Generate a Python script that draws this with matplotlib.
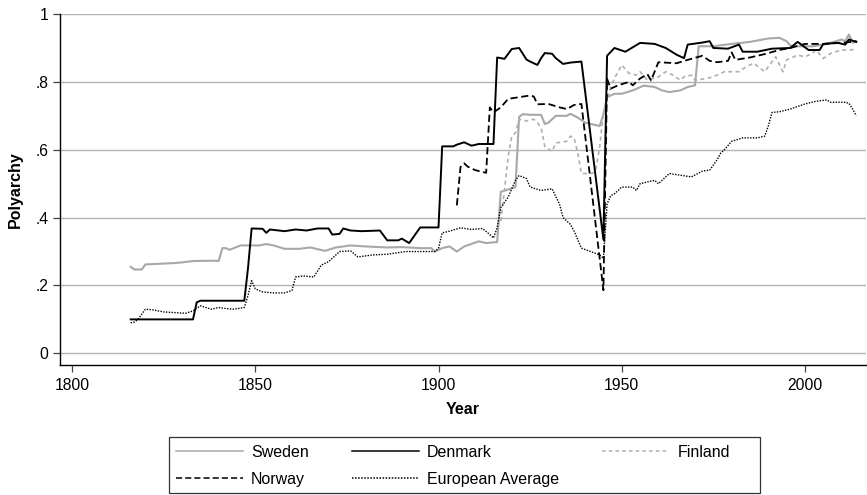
import matplotlib
matplotlib.use("Agg")
from matplotlib import pyplot as plt
from matplotlib.patches import Rectangle

# values
sweden_years = [1816, 1817, 1819, 1820, 1824, 1828, 1830, 1833, 1839, 1840, 1841, 1842, 1843, 1846,
                1851, 1853, 1855, 1858, 1862, 1865, 1869, 1872, 1876, 1880, 1886, 1890, 1895, 1898,
                1899, 1901, 1903, 1905, 1907, 1911, 1913, 1916, 1917, 1920, 1921, 1922, 1923, 1925,
                1928, 1929, 1930, 1932, 1935, 1936, 1938, 1940, 1944, 1945, 1946, 1948, 1950, 1953,
                1956, 1959, 1961, 1963, 1966, 1968, 1970, 1971, 1975, 1980, 1985, 1990, 1993, 1995,
                1996, 1998, 2002, 2006, 2010, 2011, 2012, 2013, 2014]
sweden_vals = [0.255, 0.247, 0.247, 0.262, 0.264, 0.266, 0.268, 0.272, 0.273, 0.272, 0.31, 0.31, 0.305, 0.318,
               0.318, 0.322, 0.318, 0.308, 0.308, 0.312, 0.302, 0.312, 0.318, 0.315, 0.312, 0.313, 0.31, 0.31,
               0.30, 0.31, 0.315, 0.30, 0.315, 0.33, 0.325, 0.328, 0.476, 0.486, 0.49, 0.697, 0.705, 0.703,
               0.703, 0.676, 0.68, 0.70, 0.70, 0.706, 0.695, 0.68, 0.67, 0.705, 0.755, 0.765, 0.765, 0.775,
               0.789, 0.785, 0.775, 0.77, 0.775, 0.785, 0.79, 0.905, 0.905, 0.912, 0.918, 0.928, 0.93, 0.92,
               0.907, 0.905, 0.905, 0.912, 0.925, 0.92, 0.94, 0.915, 0.92]

denmark_years = [1816, 1833, 1834, 1835, 1847, 1848, 1849, 1852, 1853, 1854, 1858, 1861, 1864, 1867,
                 1870, 1871, 1873, 1874, 1876, 1879, 1884, 1886, 1889, 1890, 1892, 1895, 1900, 1901,
                 1904, 1905, 1907, 1909, 1911, 1915, 1916, 1918, 1920, 1922, 1924, 1925, 1927, 1928,
                 1929, 1931, 1932, 1934, 1936, 1939, 1945, 1946, 1948, 1951, 1955, 1959, 1962, 1965,
                 1967, 1968, 1972, 1974, 1975, 1979, 1982, 1983, 1987, 1991, 1996, 1998, 2001, 2004,
                 2005, 2009, 2011, 2012, 2014]
denmark_vals = [0.10, 0.10, 0.15, 0.155, 0.155, 0.25, 0.368, 0.367, 0.355, 0.365, 0.36, 0.365, 0.362, 0.368,
                0.368, 0.35, 0.352, 0.368, 0.362, 0.36, 0.362, 0.333, 0.333, 0.338, 0.325, 0.371, 0.371, 0.61,
                0.61, 0.615, 0.622, 0.612, 0.617, 0.617, 0.872, 0.868, 0.897, 0.90, 0.866, 0.86, 0.85, 0.87,
                0.885, 0.883, 0.87, 0.853, 0.857, 0.86, 0.335, 0.877, 0.90, 0.889, 0.915, 0.912, 0.90, 0.88,
                0.87, 0.91, 0.916, 0.92, 0.90, 0.898, 0.91, 0.889, 0.889, 0.898, 0.90, 0.918, 0.894, 0.894,
                0.912, 0.915, 0.91, 0.925, 0.918]

norway_years = [1905, 1906, 1907, 1908, 1910, 1913, 1914, 1915, 1917, 1919, 1922, 1925, 1926, 1927,
                1930, 1933, 1935, 1937, 1939, 1945, 1946, 1947, 1949, 1952, 1953, 1955, 1957, 1958,
                1960, 1965, 1967, 1972, 1974, 1976, 1979, 1980, 1981, 1985, 1989, 1993, 1996, 2000,
                2005, 2011, 2014]
norway_vals = [0.436, 0.549, 0.56, 0.55, 0.54, 0.532, 0.725, 0.71, 0.725, 0.75, 0.755, 0.76, 0.757, 0.734,
               0.735, 0.725, 0.72, 0.732, 0.735, 0.186, 0.809, 0.78, 0.79, 0.80, 0.79, 0.81, 0.823, 0.804,
               0.858, 0.855, 0.862, 0.877, 0.862, 0.858, 0.862, 0.887, 0.865, 0.872, 0.882, 0.894, 0.90, 0.912,
               0.912, 0.916, 0.92]

finland_years = [1917, 1918, 1919, 1920, 1921, 1922, 1924, 1926, 1927, 1928, 1929, 1931, 1932, 1935,
                 1936, 1937, 1938, 1939, 1942, 1943, 1944, 1945, 1946, 1947, 1948, 1950, 1952, 1954,
                 1955, 1957, 1960, 1962, 1964, 1966, 1967, 1969, 1970, 1973, 1975, 1978, 1982, 1984,
                 1986, 1989, 1992, 1994, 1995, 1998, 2000, 2002, 2003, 2005, 2007, 2010, 2012, 2014]
finland_vals = [0.39, 0.48, 0.58, 0.64, 0.65, 0.69, 0.685, 0.69, 0.68, 0.665, 0.61, 0.595, 0.62, 0.625,
                0.64, 0.635, 0.59, 0.53, 0.53, 0.545, 0.61, 0.71, 0.746, 0.786, 0.81, 0.85, 0.825, 0.82,
                0.83, 0.805, 0.815, 0.83, 0.82, 0.805, 0.815, 0.82, 0.805, 0.81, 0.815, 0.83, 0.83, 0.845,
                0.855, 0.83, 0.874, 0.83, 0.865, 0.879, 0.874, 0.884, 0.894, 0.869, 0.884, 0.894, 0.894, 0.896]

europe_years = [1816, 1817, 1818, 1820, 1822, 1825, 1828, 1831, 1833, 1835, 1838, 1840, 1842, 1844,
                1847, 1848, 1849, 1850, 1852, 1855, 1858, 1860, 1861, 1863, 1866, 1868, 1870, 1873,
                1876, 1878, 1882, 1886, 1891, 1895, 1899, 1900, 1901, 1903, 1906, 1909, 1912, 1914,
                1915, 1916, 1917, 1919, 1921, 1922, 1924, 1925, 1928, 1931, 1933, 1934, 1936, 1937,
                1939, 1942, 1944, 1945, 1946, 1947, 1948, 1950, 1953, 1954, 1955, 1957, 1959, 1960,
                1963, 1966, 1969, 1972, 1974, 1976, 1977, 1978, 1980, 1983, 1987, 1989, 1990, 1991,
                1993, 1996, 2000, 2003, 2006, 2007, 2011, 2012, 2013, 2014]
europe_vals = [0.09, 0.092, 0.10, 0.13, 0.128, 0.122, 0.12, 0.118, 0.125, 0.14, 0.13, 0.135, 0.132, 0.13,
               0.135, 0.17, 0.214, 0.19, 0.181, 0.178, 0.178, 0.185, 0.225, 0.228, 0.225, 0.26, 0.27, 0.30,
               0.302, 0.284, 0.29, 0.292, 0.30, 0.30, 0.30, 0.31, 0.355, 0.36, 0.37, 0.365, 0.368, 0.35,
               0.34, 0.37, 0.43, 0.46, 0.51, 0.524, 0.515, 0.49, 0.48, 0.485, 0.44, 0.40, 0.38, 0.36,
               0.31, 0.298, 0.29, 0.28, 0.44, 0.465, 0.47, 0.49, 0.49, 0.48, 0.50, 0.505, 0.51, 0.50,
               0.53, 0.525, 0.52, 0.537, 0.54, 0.57, 0.59, 0.60, 0.625, 0.635, 0.635, 0.64, 0.67, 0.71,
               0.712, 0.72, 0.735, 0.743, 0.747, 0.74, 0.74, 0.737, 0.72, 0.70]

y_ticks = [0, 0.2, 0.4, 0.6, 0.8, 1.0]
y_tick_labels = ["0", ".2", ".4", ".6", ".8", "1"]
x_ticks = [1800, 1850, 1900, 1950, 2000]

plt.rcParams['font.family'] = ['Liberation Sans', 'DejaVu Sans']

fig = plt.figure(figsize=(8.67, 4.95), dpi=100)
ax = fig.add_axes([0.0696, 0.2626, 0.929, 0.709])

l_swe, = ax.plot(sweden_years, sweden_vals, color='#a8a8a8', lw=1.5, label='Sweden')
l_fin, = ax.plot(finland_years, finland_vals, color='#b0b0b0', lw=1.2, dashes=(2.4, 2), label='Finland')
l_eur, = ax.plot(europe_years, europe_vals, color='black', lw=1.0, linestyle=(0, (1, 1)), label='European Average')
l_nor, = ax.plot(norway_years, norway_vals, color='black', lw=1.3, dashes=(4, 2), label='Norway')
l_den, = ax.plot(denmark_years, denmark_vals, color='black', lw=1.4, label='Denmark')

ax.set_xlim(1796.8, 2016.6)
ax.set_ylim(-0.0345, 1.0)
ax.set_xticks(x_ticks)
ax.set_yticks(y_ticks)
ax.set_yticklabels(y_tick_labels)
ax.yaxis.grid(True, color='#b4b4b4', lw=1.0)
ax.set_axisbelow(True)
for s in ['top', 'right']:
    ax.spines[s].set_visible(False)
ax.spines['left'].set_linewidth(1.0)
ax.spines['bottom'].set_linewidth(1.0)
ax.tick_params(axis='both', direction='out', length=5, width=0.9, color='#444444', labelsize=11.3)
ax.tick_params(axis='x', pad=4)
ax.tick_params(axis='y', pad=3.5)
ax.set_xlabel('Year', fontsize=11.5, fontweight='bold', labelpad=7)
ax.set_ylabel('Polyarchy', fontsize=11.5, fontweight='bold', labelpad=9)

# legend box like the original
box = Rectangle((169 / 867, 1 - 493 / 495), (760 - 169) / 867, (493 - 437) / 495,
                transform=fig.transFigure, fill=False, edgecolor='#333333', lw=0.9)
fig.patches.append(box)

handles = [l_swe, l_nor, l_den, l_eur, l_fin]
leg = fig.legend(handles=handles, labels=[h.get_label() for h in handles], ncol=3,
                 loc='upper left', bbox_to_anchor=(176 / 867, 1 - 445 / 495),
                 frameon=False, fontsize=11.5, handlelength=4.2, handletextpad=0.5,
                 columnspacing=2.7, labelspacing=0.75, borderpad=0, borderaxespad=0)
for h in leg.legend_handles:
    h.set_linewidth(1.1)

fig.savefig('out.png', dpi=100)
